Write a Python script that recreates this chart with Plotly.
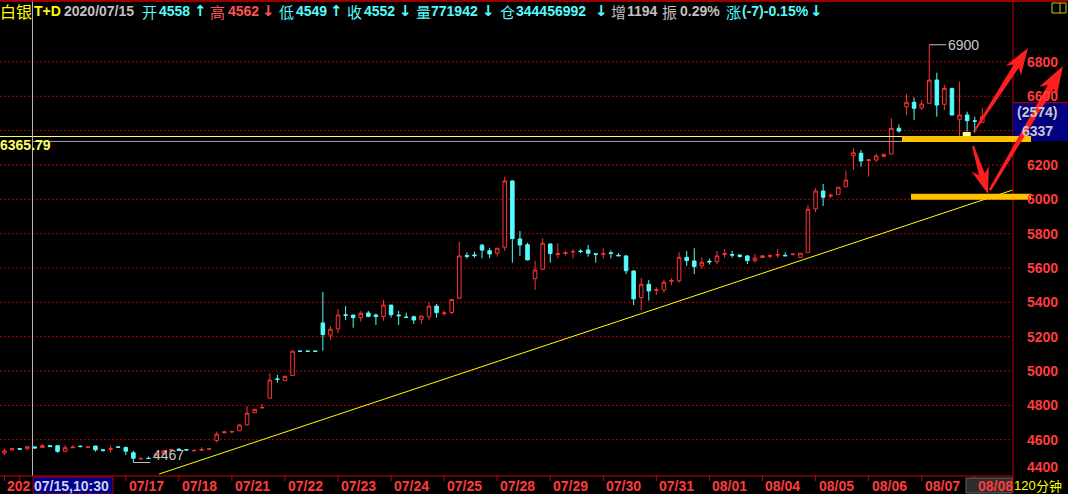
import math
import plotly.graph_objects as go

# ---------------- data (120-minute bars, 白银T+D) ----------------
opens = [4522, 4540, 4548, 4546, 4558, 4555, 4565, 4565, 4532, 4553,
         4562, 4556, 4563, 4541, 4544, 4558, 4555, 4524, 4488, 4492,
         4495, 4517, 4538, 4545, 4542, 4535, 4539, 4545, 4595, 4640,
         4645, 4652, 4687, 4757, 4785, 4842, 4954, 4945, 4974, 5116,
         5116, 5116, 5280, 5209, 5245, 5327, 5326, 5311, 5338, 5326,
         5317, 5384, 5326, 5314, 5316, 5301, 5316, 5378, 5334, 5341,
         5424, 5672, 5676, 5733, 5700, 5686, 5721, 6107, 5769, 5736,
         5538, 5593, 5740, 5679, 5684, 5693, 5699, 5705, 5683, 5680,
         5688, 5674, 5670, 5582, 5428, 5505, 5470, 5472, 5522, 5526,
         5662, 5641, 5612, 5639, 5637, 5679, 5678, 5676, 5670, 5643,
         5661, 5668, 5675, 5674, 5678, 5662, 5689, 5944, 6048, 6019,
         6029, 6073, 6254, 6268, 6226, 6229, 6250, 6264, 6414, 6539,
         6565, 6533, 6559, 6695, 6553, 6646, 6466, 6491, 6457, 6448]
highs = [4550, 4550, 4549, 4560, 4562, 4575, 4566, 4566, 4569, 4567,
         4567, 4559, 4564, 4542, 4565, 4559, 4559, 4536, 4497, 4502,
         4520, 4540, 4548, 4549, 4544, 4546, 4556, 4547, 4647, 4652,
         4648, 4688, 4796, 4779, 4808, 4987, 4977, 4972, 5117, 5116,
         5116, 5116, 5460, 5262, 5361, 5378, 5327, 5350, 5350, 5334,
         5414, 5385, 5350, 5340, 5322, 5321, 5400, 5390, 5350, 5418,
         5752, 5690, 5695, 5740, 5718, 5716, 6132, 6110, 5815, 5747,
         5642, 5773, 5742, 5744, 5700, 5710, 5709, 5734, 5684, 5715,
         5702, 5686, 5676, 5588, 5543, 5530, 5487, 5530, 5540, 5691,
         5699, 5715, 5662, 5655, 5699, 5710, 5699, 5677, 5676, 5681,
         5673, 5681, 5710, 5691, 5684, 5687, 5967, 6064, 6089, 6035,
         6072, 6167, 6297, 6287, 6233, 6264, 6264, 6472, 6437, 6613,
         6594, 6578, 6900, 6737, 6666, 6648, 6685, 6510, 6481, 6533]
lows = [4511, 4538, 4540, 4545, 4549, 4552, 4557, 4524, 4528, 4553,
        4555, 4555, 4530, 4530, 4524, 4554, 4511, 4467, 4487, 4489,
        4492, 4515, 4530, 4538, 4536, 4535, 4539, 4540, 4583, 4637,
        4637, 4650, 4682, 4755, 4785, 4840, 4932, 4942, 4972, 5115,
        5115, 5115, 5118, 5181, 5220, 5297, 5252, 5287, 5315, 5268,
        5293, 5310, 5268, 5311, 5274, 5276, 5297, 5310, 5322, 5330,
        5418, 5655, 5660, 5656, 5656, 5666, 5699, 5631, 5670, 5645,
        5472, 5588, 5631, 5656, 5672, 5656, 5686, 5666, 5631, 5656,
        5656, 5670, 5565, 5384, 5355, 5410, 5443, 5456, 5501, 5514,
        5612, 5565, 5594, 5620, 5623, 5660, 5660, 5660, 5623, 5631,
        5658, 5658, 5660, 5670, 5674, 5660, 5687, 5924, 5961, 6006,
        6027, 6072, 6171, 6190, 6132, 6219, 6245, 6262, 6388, 6491,
        6462, 6520, 6557, 6481, 6520, 6489, 6355, 6394, 6388, 6445]
closes = [4535, 4548, 4545, 4559, 4552, 4565, 4560, 4532, 4553, 4556,
          4560, 4558, 4541, 4538, 4547, 4556, 4533, 4492, 4490, 4490,
          4515, 4535, 4542, 4541, 4540, 4537, 4541, 4547, 4632, 4645,
          4648, 4686, 4754, 4777, 4787, 4947, 4951, 4969, 5116, 5115,
          5115, 5115, 5212, 5244, 5326, 5324, 5311, 5336, 5317, 5317,
          5384, 5328, 5322, 5312, 5297, 5320, 5378, 5340, 5338, 5416,
          5670, 5668, 5672, 5704, 5682, 5715, 6107, 5771, 5734, 5647,
          5588, 5744, 5684, 5683, 5688, 5696, 5696, 5686, 5680, 5683,
          5685, 5671, 5584, 5420, 5505, 5466, 5473, 5517, 5526, 5662,
          5643, 5608, 5633, 5636, 5670, 5683, 5675, 5667, 5643, 5658,
          5671, 5671, 5678, 5671, 5681, 5686, 5942, 6048, 6012, 6023,
          6070, 6112, 6271, 6223, 6230, 6252, 6262, 6413, 6398, 6565,
          6530, 6555, 6694, 6549, 6646, 6491, 6491, 6458, 6455, 6481]
bar_index = list(range(len(opens)))

day_labels = ['07/17', '07/18', '07/21', '07/22', '07/23', '07/24', '07/25',
              '07/28', '07/29', '07/30', '07/31', '08/01', '08/04', '08/05',
              '08/06', '08/07', '08/08']
day_first_bar = [16, 23, 30, 37, 44, 51, 58, 65, 72, 79, 86, 93, 100, 107,
                 114, 121, 128]
hidden_day_bars = [0, 2, 9]

price_ticks = [4400, 4600, 4800, 5000, 5200, 5400, 5600, 5800, 6000, 6200, 6800, 6600]
grid_levels = [4600, 4800, 5000, 5200, 5400, 5600, 5800, 6000, 6200, 6400, 6600, 6800]

trend_x = [20.4, 133.0]
trend_y = [4400, 6054]

ref_level = 6365.79
last_price = 6337
hi_mark = (122, 6900)
lo_mark = (17, 4467)

# ---------------- geometry helpers ----------------
W, H = 1068, 494
PW, PH = 1013, 476          # plot area in pixels (left=0, top=0)
X_RANGE = [-0.594, 133.05]
Y_RANGE = [4388.5, 7160.7]


def px(x):
    return x / PW


def py(y):
    return (PH - y) / PH


def bar_px(i):
    return (i - X_RANGE[0]) / (X_RANGE[1] - X_RANGE[0]) * PW


def val_py(v):
    return PH - (v - Y_RANGE[0]) / (Y_RANGE[1] - Y_RANGE[0]) * PH


RED = '#FF3232'
CYAN = '#54FCFC'
LAT = 'Liberation Sans'
CJK = 'Noto Sans CJK SC'
ARW = 'DejaVu Sans'

fig = go.Figure()
fig.add_trace(go.Candlestick(
    x=bar_index, open=opens, high=highs, low=lows, close=closes,
    increasing=dict(line=dict(color=RED, width=1), fillcolor='#000000'),
    decreasing=dict(line=dict(color=CYAN, width=1), fillcolor=CYAN),
    whiskerwidth=0, showlegend=False, hoverinfo='skip'))
fig.add_trace(go.Scatter(x=trend_x, y=trend_y, mode='lines',
                         line=dict(color='#FFFF00', width=1),
                         showlegend=False, hoverinfo='skip'))

shapes = []
ann = []

# grid
for v in grid_levels:
    shapes.append(dict(type='line', xref='paper', yref='y', x0=0, x1=1, y0=v, y1=v,
                       line=dict(color='#B40000', width=1, dash='2px,2px'), layer='below'))

# horizontal reference lines and crosshair
shapes.append(dict(type='line', xref='paper', yref='y', x0=0, x1=1, y0=ref_level, y1=ref_level,
                   line=dict(color='#FFFF60', width=1)))
shapes.append(dict(type='line', xref='paper', yref='y', x0=px(32.5), x1=1, y0=last_price, y1=last_price,
                   line=dict(color='#A8A8A8', width=1)))
shapes.append(dict(type='line', xref='paper', yref='paper', x0=px(32.5), x1=px(32.5), y0=0, y1=1,
                   line=dict(color='#B4B4B4', width=1)))

# frame lines
shapes.append(dict(type='line', xref='paper', yref='paper', x0=0, x1=1, y0=0, y1=0,
                   line=dict(color='#C80000', width=1)))
shapes.append(dict(type='line', xref='paper', yref='paper', x0=1, x1=1, y0=py(H), y1=1,
                   line=dict(color='#C80000', width=1)))
shapes.append(dict(type='line', xref='paper', yref='paper', x0=0, x1=px(W), y0=py(1), y1=py(1),
                   line=dict(color='#C80000', width=1.5)))

# x ticks
for i in day_first_bar + hidden_day_bars:
    x = bar_px(i)
    shapes.append(dict(type='line', xref='paper', yref='paper', x0=px(x), x1=px(x), y0=py(476), y1=py(481),
                       line=dict(color='#C80000', width=1)))

# high / low markers
hx = bar_px(hi_mark[0]); hy = val_py(hi_mark[1])
shapes.append(dict(type='line', xref='paper', yref='paper', x0=px(hx), x1=px(hx + 17), y0=py(hy), y1=py(hy),
                   line=dict(color='#C0C0C0', width=1)))
lx = bar_px(lo_mark[0]); ly = val_py(lo_mark[1])
shapes.append(dict(type='line', xref='paper', yref='paper', x0=px(lx), x1=px(lx + 17), y0=py(ly), y1=py(ly),
                   line=dict(color='#C0C0C0', width=1)))

# right price box
shapes.append(dict(type='rect', xref='paper', yref='paper', x0=px(1013), x1=px(1068), y0=py(141), y1=py(102.7),
                   fillcolor='#000080', line=dict(width=0)))
shapes.append(dict(type='line', xref='paper', yref='paper', x0=px(1013), x1=px(1068), y0=py(102.7), y1=py(102.7),
                   line=dict(color='#C80000', width=1)))
# bottom time box
shapes.append(dict(type='rect', xref='paper', yref='paper', x0=px(33), x1=px(113), y0=py(494), y1=py(477),
                   fillcolor='#000088', line=dict(color='#B00000', width=1)))
# 08/08 gray box
shapes.append(dict(type='rect', xref='paper', yref='paper', x0=px(966), x1=px(1012), y0=py(493), y1=py(478),
                   fillcolor='#2E2E2E', line=dict(color='#606060', width=1)))
# tiny icon top right
shapes.append(dict(type='rect', xref='paper', yref='paper', x0=px(1052), x1=px(1066), y0=py(13), y1=py(3),
                   fillcolor='rgba(0,0,0,0)', line=dict(color='#C8C800', width=1)))
shapes.append(dict(type='line', xref='paper', yref='paper', x0=px(1060), x1=px(1060), y0=py(13), y1=py(3),
                   line=dict(color='#C8C800', width=1)))
# pale yellow block
shapes.append(dict(type='rect', xref='paper', yref='paper', x0=px(962.7), x1=px(970.7), y0=py(136), y1=py(132),
                   fillcolor='#FFFF99', line=dict(width=0)))

# orange hand-drawn lines
for (xa, xb, yy) in [(902, 1031, 139), (911, 1031, 196.8)]:
    shapes.append(dict(type='line', xref='paper', yref='paper', x0=px(xa), x1=px(xb), y0=py(yy), y1=py(yy),
                       line=dict(color='#FFC000', width=6)))


def arrow_path(x0, y0, x1, y1, head_len, head_half, tail_w, neck_w):
    dx, dy = x1 - x0, y1 - y0
    L = math.hypot(dx, dy)
    ux, uy = dx / L, dy / L
    nx, ny = -uy, ux
    bx, by = x1 - ux * head_len, y1 - uy * head_len
    cx, cy = x1 - ux * head_len * 0.8, y1 - uy * head_len * 0.8
    pts = [(x0 + nx * tail_w / 2, y0 + ny * tail_w / 2),
           (cx + nx * neck_w / 2, cy + ny * neck_w / 2),
           (bx + nx * head_half, by + ny * head_half),
           (x1, y1),
           (bx - nx * head_half, by - ny * head_half),
           (cx - nx * neck_w / 2, cy - ny * neck_w / 2),
           (x0 - nx * tail_w / 2, y0 - ny * tail_w / 2)]
    return 'M ' + ' L '.join(f'{px(x):.5f},{py(y):.5f}' for x, y in pts) + ' Z'


for a in [(975, 130, 1028, 48, 27, 9, 2, 6),
          (990, 190, 1063, 66, 30, 10, 2.5, 7),
          (973, 146, 988, 194, 26, 9, 2, 6)]:
    shapes.append(dict(type='path', xref='paper', yref='paper', path=arrow_path(*a),
                       fillcolor='#FF1E1E', line=dict(width=0)))


def txt(x, y, s, color, size=14, family=LAT, bold=True, anchor='left'):
    ann.append(dict(xref='paper', yref='paper', x=px(x), y=py(y),
                    text=f'<b>{s}</b>' if bold else s, showarrow=False,
                    xanchor=anchor, yanchor='middle', borderpad=0,
                    font=dict(family=family, size=size, color=color)))


# header
YEL = '#FFFF00'
GRY = '#C0C0C0'
HRED = '#FF5454'
hy0 = 11
txt(-1, hy0, '白银', YEL, 16, CJK, False)
txt(33, hy0, 'T+D', YEL)
txt(63, hy0, '2020/07/15', GRY)
header = [(141, '开', 158, '4558', 193, '↑', CYAN),
          (209, '高', 227, '4562', 261, '↓', HRED),
          (278, '低', 295, '4549', 329, '↑', CYAN),
          (346, '收', 363, '4552', 398, '↓', CYAN),
          (415, '量', 430, '771942', 481, '↓', CYAN),
          (499, '仓', 515, '344456992', 594, '↓', CYAN)]
for cx, ch, nx_, num, ax_, arr, col in header:
    txt(cx, hy0, ch, col, 15, CJK, False)
    txt(nx_, hy0, num, col)
    txt(ax_, hy0, arr, col, 15, ARW, True)
txt(610, hy0, '增', GRY, 15, CJK, False)
txt(626, hy0, '1194', GRY)
txt(661, hy0, '振', GRY, 15, CJK, False)
txt(679, hy0, '0.29%', GRY)
txt(725, hy0, '涨', CYAN, 15, CJK, False)
txt(741, hy0, '(-7)-0.15%', CYAN)
txt(809, hy0, '↓', CYAN, 15, ARW, True)

# price labels on the right
for v in price_ticks:
    y = val_py(v)
    if v == 4400:
        y -= 7
    txt(1059, y, str(v), '#FF3C3C', 14, LAT, True, 'right')

# right box text
txt(1037, 112, '(2574)', '#C8C8C8', 14, LAT, True, 'center')
txt(1037, 130.5, str(last_price), '#C8C8C8', 14, LAT, True, 'center')

# reference level label
txt(-1, 145, f'{ref_level:.2f}', '#FFFF66')

# high / low labels
txt(hx + 18, hy, str(hi_mark[1]), '#C8C8C8', 14, LAT, False)
txt(lx + 19, ly - 7.5, str(lo_mark[1]), '#C8C8C8', 14, LAT, False)

# x labels
txt(6, 486, '202', '#FF3C3C')
txt(33, 486, '07/15,10:30', '#D0D0F0')
for lab, i in zip(day_labels, day_first_bar):
    txt(bar_px(i) + 2, 486, lab, '#FF3C3C')
txt(1013, 486, '120', YEL, 13, LAT, False)
txt(1035, 486, '分钟', YEL, 13, CJK, False)

fig.update_layout(
    width=W, height=H,
    margin=dict(l=0, r=W - PW, t=0, b=H - PH, pad=0),
    paper_bgcolor='#000000', plot_bgcolor='#000000',
    showlegend=False, hovermode=False, boxgap=0.33,
    xaxis=dict(range=X_RANGE, visible=False, rangeslider=dict(visible=False), fixedrange=True),
    yaxis=dict(range=Y_RANGE, visible=False, fixedrange=True),
    shapes=shapes, annotations=ann,
)

fig.write_html('out.html', config={'displayModeBar': False},
               post_script="document.body.style.margin='0';document.body.style.background='#000';")
